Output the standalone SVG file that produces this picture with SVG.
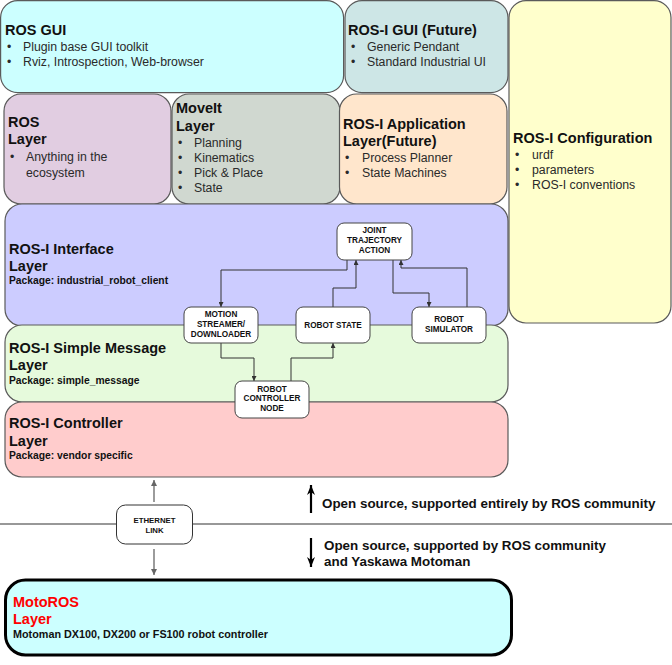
<svg xmlns="http://www.w3.org/2000/svg" width="672" height="665" viewBox="0 0 672 665">
<defs>
<style>
.box{stroke:#5a5a5a;stroke-width:1.2}
.t{font-family:"Liberation Sans",Arial,sans-serif;font-weight:bold;font-size:14.5px;fill:#111}
.b{font-family:"Liberation Sans",Arial,sans-serif;font-size:12.3px;fill:#2a2a2a}
.p{font-family:"Liberation Sans",Arial,sans-serif;font-weight:bold;font-size:10.3px;fill:#111}
.node{fill:#fff;stroke:#444;stroke-width:1}
.nt{font-family:"Liberation Sans",Arial,sans-serif;font-weight:bold;font-size:8.2px;fill:#111;text-anchor:middle}
.con{fill:none;stroke:#333;stroke-width:1}
.big{font-family:"Liberation Sans",Arial,sans-serif;font-weight:bold;font-size:13.4px;fill:#111}
</style>
<marker id="ah" viewBox="0 0 6 6" refX="6" refY="3" markerWidth="5" markerHeight="5" orient="auto" markerUnits="userSpaceOnUse">
<path d="M0,0 L6,3 L0,6 Z" fill="#333"/>
</marker>
<marker id="ahg" viewBox="0 0 8 8" refX="8" refY="4" markerWidth="6" markerHeight="6" orient="auto" markerUnits="userSpaceOnUse">
<path d="M0,0 L8,4 L0,8 Z" fill="#666"/>
</marker>
<marker id="ahb" viewBox="0 0 10 8" refX="10" refY="4" markerWidth="10" markerHeight="8" orient="auto" markerUnits="userSpaceOnUse">
<path d="M0,0 L10,4 L0,8 L3,4 Z" fill="#000"/>
</marker>
</defs>

<g id="ros-gui">
<rect class="box" x="0.6" y="0.6" width="343" height="92" rx="17" fill="#ccffff"/>
<text class="t" x="5" y="35">ROS GUI</text>
<text class="b" x="7" y="51">•</text><text class="b" x="23" y="51">Plugin base GUI toolkit</text>
<text class="b" x="7" y="66">•</text><text class="b" x="23" y="66">Rviz, Introspection, Web-browser</text>
</g>

<g id="rosi-gui">
<rect class="box" x="345" y="0.6" width="163" height="92" rx="17" fill="#cde6e6"/>
<text class="t" x="348" y="35">ROS-I GUI (Future)</text>
<text class="b" x="351" y="51">•</text><text class="b" x="367" y="51">Generic Pendant</text>
<text class="b" x="351" y="66">•</text><text class="b" x="367" y="66">Standard Industrial UI</text>
</g>

<g id="rosi-config">
<rect class="box" x="509" y="0.6" width="162" height="322.4" rx="17" fill="#ffffcc"/>
<text class="t" x="513" y="143">ROS-I Configuration</text>
<text class="b" x="515" y="159">•</text><text class="b" x="532" y="159">urdf</text>
<text class="b" x="515" y="174">•</text><text class="b" x="532" y="174">parameters</text>
<text class="b" x="515" y="189">•</text><text class="b" x="532" y="189">ROS-I conventions</text>
</g>

<g id="ros-layer">
<rect class="box" x="4" y="94" width="167" height="110" rx="17" fill="#e1cde1"/>
<text class="t" x="8" y="127">ROS</text>
<text class="t" x="8" y="144">Layer</text>
<text class="b" x="10" y="161">•</text><text class="b" x="26" y="161">Anything in the</text>
<text class="b" x="26" y="177">ecosystem</text>
</g>

<g id="moveit-layer">
<rect class="box" x="172" y="94" width="168" height="110" rx="17" fill="#d0d8d0"/>
<text class="t" x="176" y="113">MoveIt</text>
<text class="t" x="176" y="131">Layer</text>
<text class="b" x="178" y="147">•</text><text class="b" x="194" y="147">Planning</text>
<text class="b" x="178" y="162">•</text><text class="b" x="194" y="162">Kinematics</text>
<text class="b" x="178" y="177">•</text><text class="b" x="194" y="177">Pick &amp; Place</text>
<text class="b" x="178" y="192">•</text><text class="b" x="194" y="192">State</text>
</g>

<g id="rosi-application">
<rect class="box" x="339.5" y="94" width="167.5" height="110" rx="17" fill="#ffe6cc"/>
<text class="t" x="343" y="129">ROS-I Application</text>
<text class="t" x="343" y="146">Layer(Future)</text>
<text class="b" x="345" y="162">•</text><text class="b" x="362" y="162">Process Planner</text>
<text class="b" x="345" y="177">•</text><text class="b" x="362" y="177">State Machines</text>
</g>

<g id="rosi-interface">
<rect class="box" x="5" y="204" width="503" height="122" rx="17" fill="#ccccff"/>
<text class="t" x="9" y="254">ROS-I Interface</text>
<text class="t" x="9" y="271">Layer</text>
<text class="p" x="9" y="284">Package: industrial_robot_client</text>
</g>

<g id="rosi-simple-message">
<rect class="box" x="5" y="325" width="503" height="77" rx="17" fill="#e6fadc"/>
<text class="t" x="9" y="353">ROS-I Simple Message</text>
<text class="t" x="9" y="370">Layer</text>
<text class="p" x="9" y="384">Package: simple_message</text>
</g>

<g id="rosi-controller">
<rect class="box" x="5" y="402" width="503" height="75" rx="17" fill="#ffcccc"/>
<text class="t" x="9" y="428">ROS-I Controller</text>
<text class="t" x="9" y="446">Layer</text>
<text class="p" x="9" y="459">Package: vendor specific</text>
</g>

<g id="motoros-layer">
<rect x="5.5" y="580" width="506" height="75" rx="20" fill="#ccffff" stroke="#000" stroke-width="3"/>
<text class="t" x="13" y="607" style="fill:#ff0000">MotoROS</text>
<text class="t" x="13" y="624" style="fill:#ff0000">Layer</text>
<text class="p" x="13" y="638" style="font-size:10.8px">Motoman DX100, DX200 or FS100 robot controller</text>
</g>

<g id="divider">
<line x1="0" y1="524" x2="672" y2="524" stroke="#333" stroke-width="1.2"/>
</g>

<g id="connectors">
<path class="con" d="M347,260 V270 H221 V307" marker-end="url(#ah)"/>
<path class="con" d="M333,307 V288 H356 V260" marker-end="url(#ah)"/>
<path class="con" d="M393,260 V293 H429 V307" marker-end="url(#ah)"/>
<path class="con" d="M467,307 V268 H401 V260" marker-end="url(#ah)"/>
<path class="con" d="M221,343 V358 H254 V381" marker-end="url(#ah)"/>
<path class="con" d="M291,381 V358 H333 V343" marker-end="url(#ah)"/>
<path d="M154,502 V480" fill="none" stroke="#666" stroke-width="1.3" marker-end="url(#ahg)"/>
<path d="M154,549 V575" fill="none" stroke="#666" stroke-width="1.3" marker-end="url(#ahg)"/>
<path d="M311,513 V485" fill="none" stroke="#000" stroke-width="2.2" marker-end="url(#ahb)"/>
<path d="M311,538 V567" fill="none" stroke="#000" stroke-width="2.2" marker-end="url(#ahb)"/>
</g>

<g id="joint-trajectory-action">
<rect class="node" x="337" y="223" width="75" height="37" rx="7"/>
<text class="nt" x="374.5" y="233">JOINT</text>
<text class="nt" x="374.5" y="243">TRAJECTORY</text>
<text class="nt" x="374.5" y="253">ACTION</text>
</g>

<g id="motion-streamer">
<rect class="node" x="184" y="307" width="74" height="36" rx="7"/>
<text class="nt" x="221" y="317">MOTION</text>
<text class="nt" x="221" y="327">STREAMER/</text>
<text class="nt" x="221" y="337">DOWNLOADER</text>
</g>

<g id="robot-state">
<rect class="node" x="296" y="307" width="74" height="36" rx="7"/>
<text class="nt" x="333" y="328">ROBOT STATE</text>
</g>

<g id="robot-simulator">
<rect class="node" x="412" y="307" width="74" height="36" rx="7"/>
<text class="nt" x="449" y="322">ROBOT</text>
<text class="nt" x="449" y="332">SIMULATOR</text>
</g>

<g id="robot-controller-node">
<rect class="node" x="235" y="381" width="74" height="37" rx="7"/>
<text class="nt" x="272" y="392">ROBOT</text>
<text class="nt" x="272" y="401">CONTROLLER</text>
<text class="nt" x="272" y="411">NODE</text>
</g>

<g id="ethernet-link">
<rect x="116.5" y="505" width="76" height="39" rx="9" fill="#fff" stroke="#333" stroke-width="1"/>
<text class="nt" x="154.5" y="523" style="font-size:7.8px">ETHERNET</text>
<text class="nt" x="154.5" y="532.5" style="font-size:7.8px">LINK</text>
</g>

<g id="legend">
<text class="big" x="322" y="508">Open source, supported entirely by ROS community</text>
<text class="big" x="324" y="550">Open source, supported by ROS community</text>
<text class="big" x="324" y="566">and Yaskawa Motoman</text>
</g>
</svg>
